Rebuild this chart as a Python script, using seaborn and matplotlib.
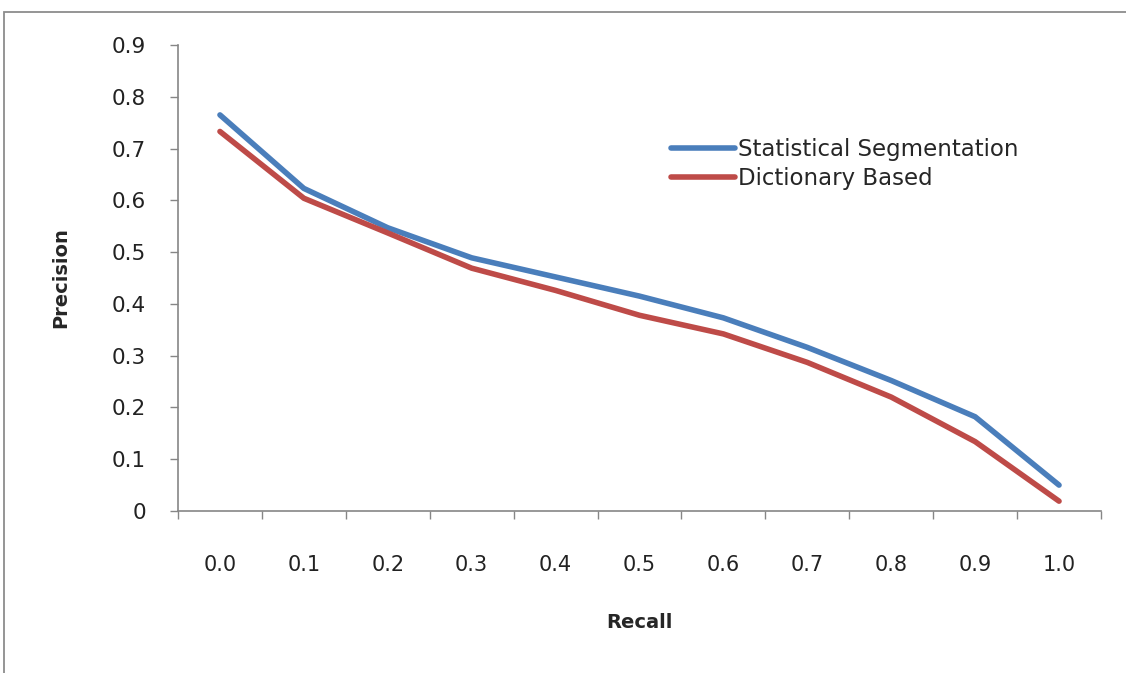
import matplotlib
matplotlib.use("Agg")
import matplotlib.pyplot as plt
import seaborn as sns
import pandas as pd
from matplotlib.patches import Rectangle

recall_labels = ["0.0", "0.1", "0.2", "0.3", "0.4", "0.5", "0.6", "0.7", "0.8", "0.9", "1.0"]
statistical = [0.765, 0.623, 0.547, 0.489, 0.452, 0.415, 0.373, 0.316, 0.252, 0.182, 0.050]
dictionary = [0.733, 0.604, 0.537, 0.469, 0.426, 0.378, 0.342, 0.287, 0.220, 0.134, 0.019]
series_names = ["Statistical Segmentation", "Dictionary Based"]

rows = []
for i, lab in enumerate(recall_labels):
    rows.append({"pos": i, "Precision": statistical[i], "series": series_names[0]})
    rows.append({"pos": i, "Precision": dictionary[i], "series": series_names[1]})
df = pd.DataFrame(rows)

sns.set_theme(style="white")
plt.rcParams["font.family"] = ["DejaVu Sans"]

fig = plt.figure(figsize=(11.26, 6.73), dpi=100)
ax = fig.add_axes([178/1126, 1-511/673, (1101-178)/1126, (511-45)/673])

palette = {series_names[0]: "#4A7EBB", series_names[1]: "#BE4B48"}
sns.lineplot(data=df, x="pos", y="Precision", hue="series", palette=palette,
             linewidth=4.0, ax=ax, legend=True, solid_capstyle="round")

ax.set_xlim(-0.5, len(recall_labels) - 0.5)
ax.set_ylim(0, 0.9)
ax.set_yticks([i/10 for i in range(10)])
ax.set_yticklabels(["0"] + [f"0.{i}" for i in range(1, 10)])

ax.set_xticks([i - 0.5 for i in range(len(recall_labels) + 1)])
ax.set_xticklabels([])
ax.set_xticks(list(range(len(recall_labels))), minor=True)
ax.set_xticklabels(recall_labels, minor=True)
ax.tick_params(axis="x", which="major", direction="out", length=6, width=1, color="#868686", bottom=True)
ax.tick_params(axis="x", which="minor", length=0, pad=32, labelsize=15, labelcolor="#222222")
ax.tick_params(axis="y", which="major", direction="out", length=6, width=1, color="#868686", left=True,
               labelsize=15.5, labelcolor="#222222", pad=17)

for s in ["top", "right"]:
    ax.spines[s].set_visible(False)
for s in ["left", "bottom"]:
    ax.spines[s].set_color("#868686")
    ax.spines[s].set_linewidth(1.2)

ax.set_xlabel("Recall", fontsize=14, fontweight="bold", labelpad=27)
ax.set_ylabel("Precision", fontsize=14, fontweight="bold", labelpad=30)

leg = ax.legend(loc="upper left", bbox_to_anchor=(0.512, 0.845), frameon=False,
                fontsize=16.5, handlelength=2.8, handletextpad=0.1, labelspacing=0.25)
for line in leg.get_lines():
    line.set_linewidth(4.0)

fig.patches.append(Rectangle((4/1126, -0.02), 1.05, 1 - 12/673 + 0.02, transform=fig.transFigure,
                             fill=False, edgecolor="#8c8c8c", linewidth=1.3, zorder=0))

fig.savefig("out.png", dpi=100)
